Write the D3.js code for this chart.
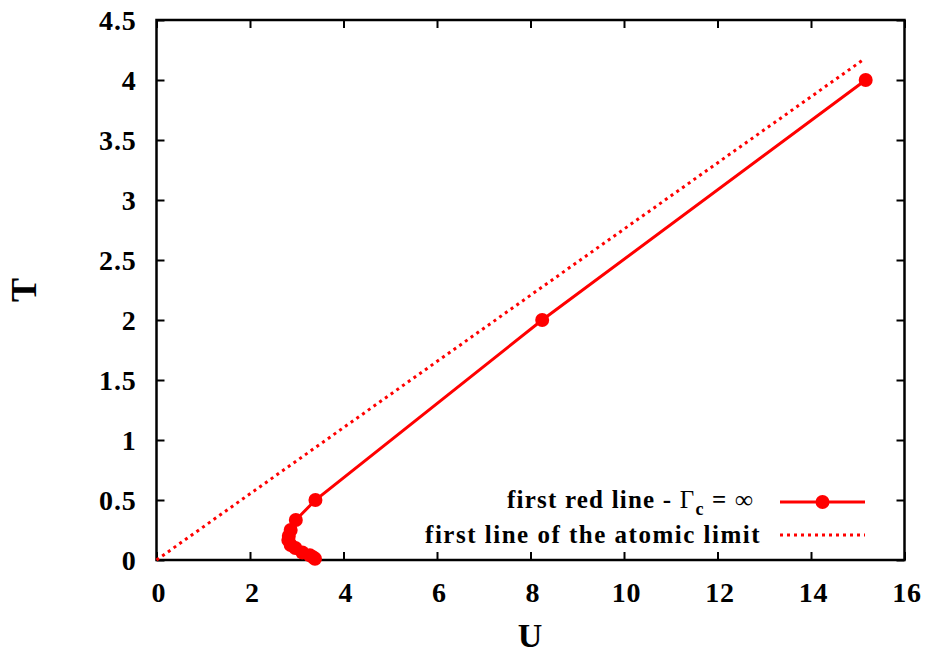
<!DOCTYPE html>
<html>
<head>
<meta charset="utf-8">
<script src="https://cdn.jsdelivr.net/npm/d3@7"></script>
<style>
  html, body { margin: 0; padding: 0; background: #fff; }
  svg { display: block; }
  text { font-family: "Liberation Serif", "Times New Roman", serif; font-weight: bold; fill: #000; }
</style>
</head>
<body>
<svg id="chart" width="927" height="653"></svg>
<script>
// Red line for Gamma_c = infinity: temperature T against interaction U
const redU = [15.17, 8.25, 3.40, 2.98, 2.87, 2.83, 2.82, 2.87, 2.97, 3.12, 3.28, 3.36, 3.39];
const redT = [4.0, 2.0, 0.5, 0.333, 0.25, 0.2, 0.167, 0.125, 0.1, 0.0625, 0.04, 0.02, 0.01];

// Atomic-limit line (straight through the origin)
const atomicU = [0, 15.1];
const atomicT = [0, 4.164];

const xTicks = [0, 2, 4, 6, 8, 10, 12, 14, 16];
const yTicks = [0, 0.5, 1, 1.5, 2, 2.5, 3, 3.5, 4, 4.5];
const yTickLabels = ["0", "0.5", "1", "1.5", "2", "2.5", "3", "3.5", "4", "4.5"];

const seriesNames = ["first red line - ", "first line of the atomic limit"];

const red = "#ff0000";
const plotL = 156.5, plotR = 904.5, plotT = 20, plotB = 560;

const svg = d3.select("#chart");
const x = d3.scaleLinear().domain([0, 16]).range([plotL, plotR]);
const y = d3.scaleLinear().domain([0, 4.5]).range([plotB, plotT]);

// Axes with inward ticks on all four sides
const tickLen = 8;
const axisStyle = g => {
  g.select(".domain").remove();
  g.selectAll(".tick line").attr("stroke", "#000").attr("stroke-width", 2);
};
svg.append("g").attr("transform", `translate(0,${plotB})`)
  .call(d3.axisBottom(x).tickValues(xTicks).tickSize(-tickLen).tickPadding(23).tickFormat(d3.format("d")))
  .call(axisStyle)
  .call(g => g.selectAll(".tick text").attr("font-size", 28).attr("letter-spacing", 0.8)
    .attr("dx", 2).attr("dy", "0.69em"));
svg.append("g").attr("transform", `translate(0,${plotT})`)
  .call(d3.axisTop(x).tickValues(xTicks).tickSize(-tickLen).tickFormat(""))
  .call(axisStyle);
svg.append("g").attr("transform", `translate(${plotL},0)`)
  .call(d3.axisLeft(y).tickValues(yTicks).tickSize(-tickLen).tickPadding(20)
    .tickFormat((d, i) => yTickLabels[i]))
  .call(axisStyle)
  .call(g => g.selectAll(".tick text").attr("font-size", 28).attr("letter-spacing", 0.8)
    .attr("dy", "0.35em"));
svg.append("g").attr("transform", `translate(${plotR},0)`)
  .call(d3.axisRight(y).tickValues(yTicks).tickSize(-tickLen).tickFormat(""))
  .call(axisStyle);

// Plot frame
svg.append("rect")
  .attr("x", plotL).attr("y", plotT)
  .attr("width", plotR - plotL).attr("height", plotB - plotT)
  .attr("fill", "none").attr("stroke", "#000").attr("stroke-width", 2.5);

// Atomic-limit dotted line
const line = d3.line().x(d => x(d[0])).y(d => y(d[1]));
svg.append("path")
  .datum(d3.zip(atomicU, atomicT))
  .attr("d", line)
  .attr("fill", "none").attr("stroke", red).attr("stroke-width", 3)
  .attr("stroke-dasharray", "3,4");

// Red line with markers
const redPts = d3.zip(redU, redT);
svg.append("path")
  .datum(redPts)
  .attr("d", line)
  .attr("fill", "none").attr("stroke", red).attr("stroke-width", 3);
svg.append("g").selectAll("circle")
  .data(redPts).join("circle")
  .attr("cx", d => x(d[0])).attr("cy", d => y(d[1]))
  .attr("r", 7).attr("fill", red);

// Legend
const legend = svg.append("g");
const t1 = legend.append("text").attr("x", 754).attr("y", 508)
  .attr("text-anchor", "end").attr("font-size", 25).attr("letter-spacing", 1.2);
t1.append("tspan").text(seriesNames[0]);
t1.append("tspan").attr("font-weight", "normal").text("\u0393");
t1.append("tspan").attr("font-size", 18).attr("dy", 7).text("c");
t1.append("tspan").attr("dy", -7).text(" = \u221e");
legend.append("line").attr("x1", 780).attr("x2", 865).attr("y1", 502).attr("y2", 502)
  .attr("stroke", red).attr("stroke-width", 3);
legend.append("circle").attr("cx", 822.5).attr("cy", 502).attr("r", 7).attr("fill", red);

legend.append("text").attr("x", 761).attr("y", 543)
  .attr("text-anchor", "end").attr("font-size", 25).attr("letter-spacing", 1.5)
  .text(seriesNames[1]);
legend.append("line").attr("x1", 780).attr("x2", 865).attr("y1", 535).attr("y2", 535)
  .attr("stroke", red).attr("stroke-width", 3).attr("stroke-dasharray", "3,4");

// Axis titles
svg.append("text").attr("x", 530).attr("y", 647)
  .attr("text-anchor", "middle").attr("font-size", 34).text("U");
svg.append("text").attr("transform", "translate(36,290) rotate(-90)")
  .attr("text-anchor", "middle").attr("font-size", 36).text("T");
</script>
</body>
</html>
